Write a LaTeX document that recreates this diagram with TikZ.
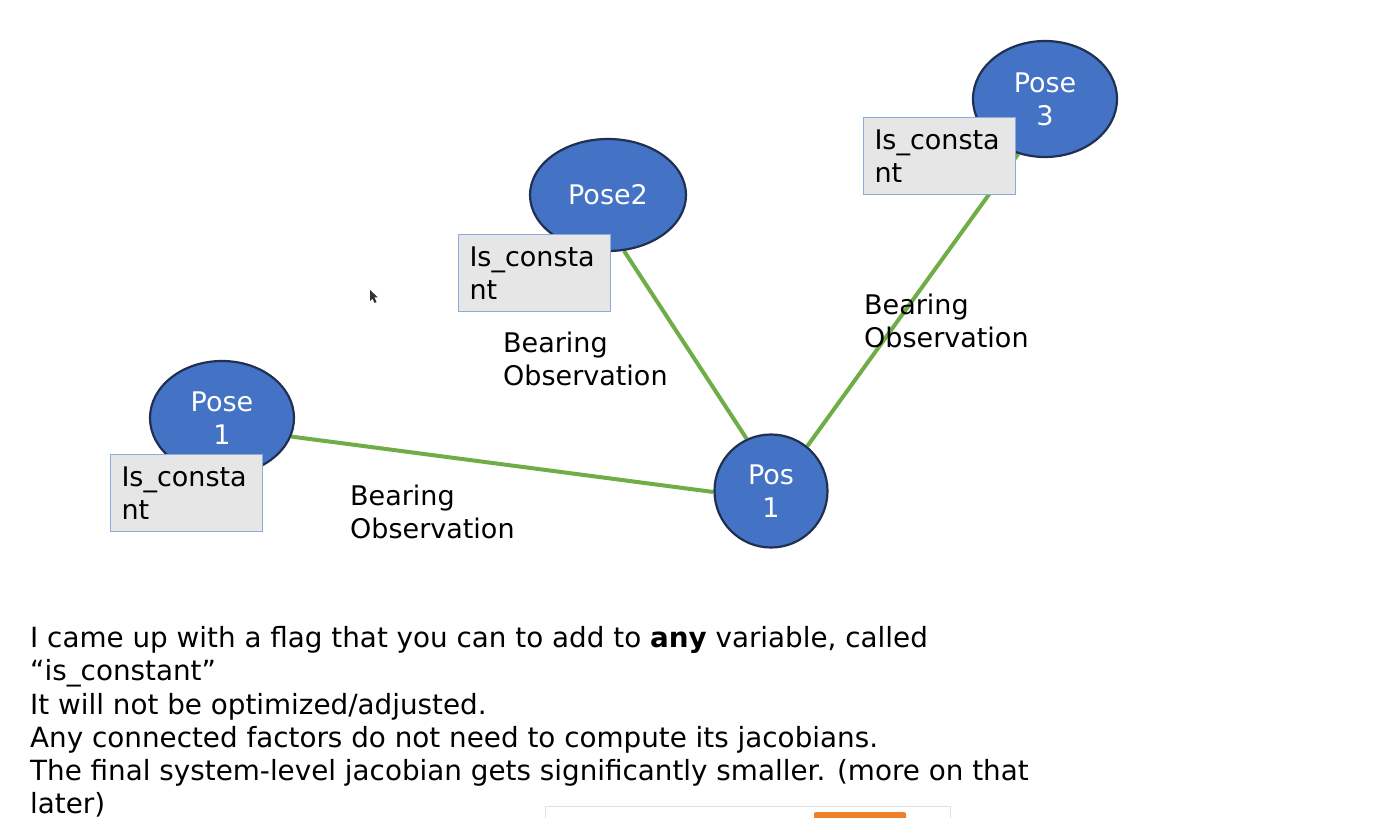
\documentclass[tikz,border=0pt]{standalone}
\usepackage{fontspec}
\setmainfont{DejaVu Sans}
\usetikzlibrary{shapes.geometric}
\definecolor{poseblue}{HTML}{4472C4}
\definecolor{posedge}{HTML}{1F3050}
\definecolor{factgreen}{HTML}{70AD47}
\definecolor{boxfill}{HTML}{E7E6E6}
\definecolor{boxedge}{HTML}{8FAADC}
\definecolor{btnorange}{HTML}{F07F2A}
\pgfdeclarelayer{bg}
\pgfsetlayers{bg,main}
\begin{document}
\begin{tikzpicture}[x=1pt,y=-1pt,
  pose/.style={ellipse,draw=posedge,line width=2.2pt,fill=poseblue,text=white,
    inner sep=0pt,align=center,font=\fontsize{27}{33}\selectfont},
  constbox/.style={draw=boxedge,line width=1pt,fill=boxfill,anchor=north west,
    minimum width=152pt,minimum height=77pt,inner xsep=11pt,inner ysep=0pt,
    text width=130pt,align=left,font=\fontsize{27}{33}\selectfont},
  factor/.style={draw=factgreen,line width=4pt},
  lbl/.style={anchor=base west,inner sep=0pt,align=left,font=\fontsize{27}{32.5}\selectfont},
  txt/.style={anchor=base west,inner sep=0pt,font=\fontsize{27.8}{33}\selectfont}]
\useasboundingbox (0,0) rectangle (1392,818);

% poses
\node[pose,minimum width=144pt,minimum height=114pt] (p1) at (222,418) {Pose\\1};
\node[pose,minimum width=113pt,minimum height=113pt] (pc) at (771,491) {Pos\\1};
\node[pose,minimum width=156pt,minimum height=112pt] (p2) at (608,195) {Pose2};
\node[pose,minimum width=144pt,minimum height=116pt] (p3) at (1045,99) {Pose\\3};

% is_constant boxes
\node[constbox] (c1) at (110,454) {Is\_consta\\nt};
\node[constbox] (c2) at (458,234) {Is\_consta\\nt};
\node[constbox] (c3) at (863,117) {Is\_consta\\nt};

% factors
\begin{pgfonlayer}{bg}
\fill[white] (0,0) rectangle (1392,818);
\draw[factor] (p1.-15) -- (pc.181);
\draw[factor] (p2.-74) -- (pc.115);
\draw[factor] (p3.-116) -- (pc.51);
\end{pgfonlayer}

% factor labels (base = last line)
\node[lbl] (b1) at (350,538) {Bearing\\Observation};
\node[lbl] (b2) at (503,385) {Bearing\\Observation};
\node[lbl] (b3) at (864,347) {Bearing\\Observation};

% mouse cursor
\fill[black!80] (370,290) -- (370,301) -- (372.5,298.5) -- (374.5,303) -- (376.5,302) -- (374.5,297.5) -- (378,297.5) -- cycle;

% body text
\node[txt] (t1) at (30,647) {I came up with a flag that you can to add to \textbf{any} variable, called};
\node[txt] (t2) at (30,680) {“is\_constant”};
\node[txt] (t3) at (30,714) {It will not be optimized/adjusted.};
\node[txt] (t4) at (30,747) {Any connected factors do not need to compute its jacobians.};
\node[txt] (t5) at (30,780) {The final system-level jacobian gets significantly smaller. (more on that};
\node[txt] (t6) at (30,813) {later)};

% partially visible window at the bottom edge
\draw[black!12,fill=white,line width=1pt] (545,806) rectangle (950,830);
\fill[btnorange,rounded corners=2pt] (814,812) rectangle (906,830);
\end{tikzpicture}
\end{document}
